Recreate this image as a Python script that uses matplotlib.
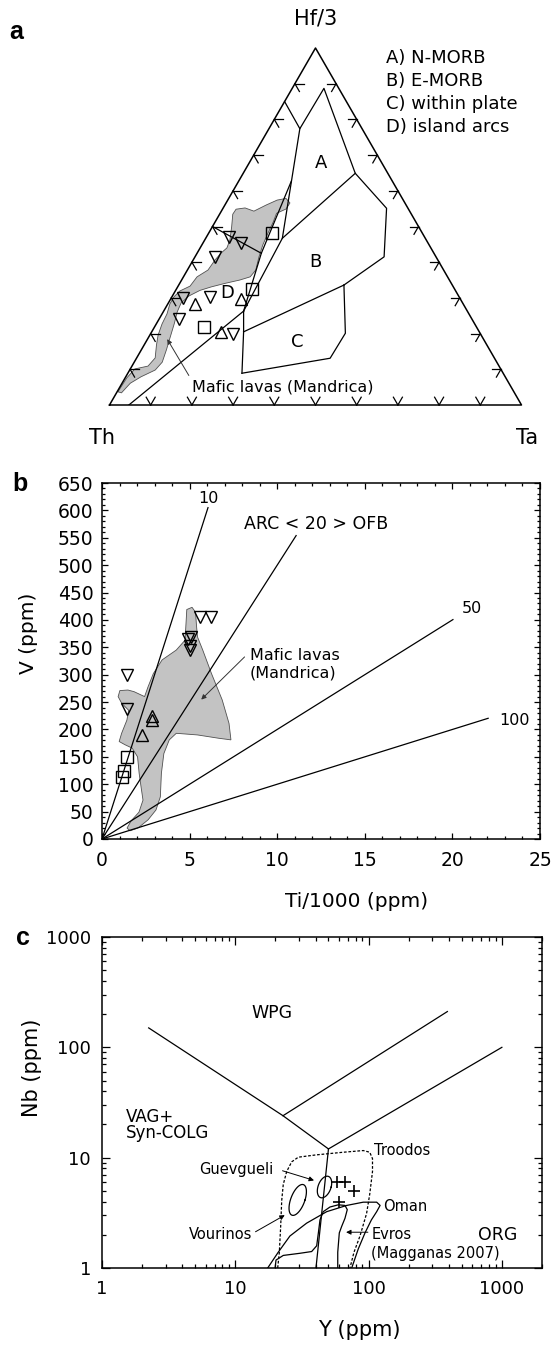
import numpy as np
import matplotlib
matplotlib.use("Agg")
import matplotlib.pyplot as plt
from matplotlib.ticker import MultipleLocator, LogLocator, FixedLocator, FixedFormatter, NullFormatter

plt.rcParams['font.family'] = ['DejaVu Sans']

# ---------------- panel a : Th - Hf/3 - Ta (percent: Th, Hf/3, Ta) ----------------
lava_a_th = [96.1, 92.0, 88.8, 85.2, 82.4, 80.2, 78.4, 75.9, 73.3, 71.2, 69.2, 66.9, 63.8, 60.8,
             57.2, 54.1, 51.7, 49.5, 47.6, 45.4, 43.4, 41.9, 39.5, 37.8, 34.0, 30.6, 28.2, 27.9,
             29.7, 32.6, 34.6, 37.5, 40.4, 42.9, 45.6, 47.9, 50.9, 54.8, 58.7, 62.0, 65.4, 68.4,
             70.6, 72.8, 75.6, 78.5, 81.2, 84.0, 88.4, 91.9, 95.3]
lava_a_hf = [3.7, 7.6, 10.1, 10.9, 13.2, 16.8, 19.6, 22.7, 25.5, 28.3, 30.3, 31.9, 33.3, 35.9,
             37.8, 40.6, 42.6, 44.0, 46.2, 49.9, 53.5, 54.9, 55.2, 54.3, 56.0, 57.4, 57.8, 56.6,
             54.9, 53.7, 51.3, 48.1, 44.8, 41.5, 37.8, 35.9, 35.0, 34.1, 33.1, 32.1, 30.5, 28.6,
             26.1, 22.9, 19.1, 15.4, 12.0, 9.8, 7.9, 6.1, 3.4]
lava_a_ta = [0.2, 0.4, 1.1, 3.9, 4.5, 3.0, 2.0, 1.4, 1.2, 0.5, 0.5, 1.1, 2.9, 3.3,
             5.0, 5.3, 5.8, 6.5, 6.1, 4.7, 3.2, 3.3, 5.3, 7.9, 10.0, 12.0, 13.9, 15.5,
             15.4, 13.7, 14.1, 14.4, 14.8, 15.5, 16.6, 16.2, 14.1, 11.1, 8.2, 5.9, 4.0, 3.1,
             3.4, 4.3, 5.2, 6.1, 6.8, 6.2, 3.7, 2.0, 1.2]

# samples (Th, Hf/3, Ta)
down_a = [(47.3, 47.1, 5.5), (45.4, 45.3, 9.4), (53.7, 41.5, 4.8), (67.3, 29.9, 2.8),
          (60.5, 30.3, 9.2), (71.2, 24.0, 4.8), (60.1, 19.9, 20.0)]
up_a = [(65.1, 28.2, 6.7), (53.2, 29.6, 17.2), (62.5, 20.5, 16.9)]
sq_a = [(36.4, 48.1, 15.5), (49.1, 32.4, 18.5), (66.0, 21.9, 12.1)]

# field boundaries (Wood 1980)
P85, J1, ATOP = (15.0, 85.0, 0.0), (15.1, 77.4, 7.5), (3.6, 88.7, 7.7)
J2, B1, B2, J3 = (7.9, 64.9, 27.2), (5.2, 55.1, 39.7), (12.6, 41.5, 45.9), (26.3, 33.6, 40.1)
K, G1, F2, L = (34.7, 46.7, 18.6), (24.6, 62.6, 12.8), (41.9, 42.5, 15.6), (54.3, 26.3, 19.4)
BASE, C1, CBOT = (95.3, 0.0, 4.7), (57.2, 20.5, 22.3), (63.4, 8.9, 27.7)
CR1, CR2, HT3 = (32.7, 20.1, 47.2), (39.9, 13.1, 47.0), (50.0, 50.0, 0.0)
fields_a = [[P85, J1, ATOP, J2, B1, B2, J3], [J2, K], [J1, K, L], [G1, F2, L],
            [HT3, F2], [L, BASE], [L, C1, CBOT], [C1, J3], [J3, CR1, CR2, CBOT]]
field_labels_a = {'A': (14.7, 67.7, 17.6), 'B': (30.0, 40.1, 29.9),
                  'C': (45.5, 17.7, 36.8), 'D': (55.9, 31.3, 12.9)}
legend_a = ['A) N-MORB', 'B) E-MORB', 'C) within plate', 'D) island arcs']
tick_steps = [10, 20, 30, 40, 50, 60, 70, 80, 90]

# ---------------- panel b : Ti/1000 vs V ----------------
ratios = [10, 20, 50, 100]
ratio_end_x = [6.05, 11.08, 20.03, 22.04]
ratio_labels = ['10', 'ARC < 20 > OFB', '50', '100']
ratio_label_pos = [(6.1, 622), (12.2, 576), (21.1, 421), (23.55, 217)]

lava_b_x = [4.84, 5.14, 5.34, 5.39, 5.45, 5.75, 6.25, 6.86, 7.25, 7.36, 6.65, 5.45, 4.24, 3.84,
            3.53, 3.39, 3.33, 3.08, 2.63, 2.05, 1.60, 1.43, 1.66, 2.11, 2.34, 2.23, 2.12, 2.03,
            1.72, 1.32, 0.98, 1.12, 1.42, 1.52, 1.12, 0.92, 1.02, 1.48, 1.83, 2.43, 2.63, 2.93,
            3.43, 4.24, 4.74, 4.79]
lava_b_v = [419, 423, 414, 391, 369, 345, 302, 254, 211, 181, 184, 190, 193, 181,
            156, 120, 77, 53, 35, 20, 15, 20, 33, 49, 71, 95, 120, 150,
            166, 172, 178, 193, 217, 235, 248, 260, 271, 272, 269, 260, 278, 302,
            327, 345, 363, 391]

down_b_x = [1.45, 1.41, 4.9, 5.1, 5.0, 5.0, 5.6, 6.2]
down_b_v = [300, 238, 365, 368, 352, 345, 405, 405]
up_b_x = [2.88, 2.87, 2.31]
up_b_v = [225, 217, 189]
sq_b_x = [1.45, 1.24, 1.12]
sq_b_v = [150, 124, 114]

# ---------------- panel c : Y vs Nb ----------------
bound_c = [[(2.24, 150), (22.8, 24), (50, 12)], [(22.8, 24), (390, 211)],
           [(50, 12), (1000, 100)], [(50, 12), (40.3, 1)]]
troodos_y = [20.8, 21.4, 21.9, 22.3, 22.9, 24.3, 26.5, 29.7, 40.5, 64.6, 91.2, 102, 107, 107,
             102, 96.6, 86.2, 77.7, 72.5]
troodos_nb = [1.0, 1.39, 2.38, 4.09, 5.71, 7.49, 9.17, 10.1, 10.6, 11.2, 11.6, 11.2, 9.8, 7.49,
              4.67, 3.12, 1.95, 1.39, 1.0]
oman_y = [17.5, 21.0, 25.7, 34.3, 48.5, 68.5, 91.2, 115, 122, 115, 105, 94, 83.7, 74.7]
oman_nb = [1.0, 1.39, 1.95, 2.55, 3.24, 3.69, 3.95, 3.95, 3.69, 3.24, 2.73, 2.08, 1.49, 1.0]
evros_y = [19.9, 20.2, 22.9, 30.6, 37.4, 40.8, 42.0, 43.2, 45.7, 51.3, 59.3, 66.5, 69.2, 66.5,
           62.8, 60.3, 58.7, 58.7]
evros_nb = [1.0, 1.18, 1.30, 1.36, 1.41, 1.59, 2.08, 2.73, 3.24, 3.57, 3.74, 3.69, 3.38, 2.82,
            2.38, 2.08, 1.39, 1.0]
# ellipses: centre Y, centre Nb, half-width (log), half-height (log), lean (log)
guevgueli = (46.7, 5.42, 0.05, 0.098, 0.02)
vourinos = (29.4, 4.14, 0.055, 0.14, 0.035)
plus_y = [58, 67, 78, 60]
plus_nb = [6.0, 6.0, 5.0, 4.0]


def tern(pts):
    p = np.asarray(pts, dtype=float)
    s = p.sum(axis=1)
    return (p[:, 2] + p[:, 1] / 2) / s, p[:, 1] / s


fig = plt.figure(figsize=(5.52, 13.6), dpi=100)
W, H = 552.0, 1360.0

# ======================= panel a =======================
tri_l, tri_b, tri_w, tri_h = 109.5, 405.0, 412.0, 357.0
axa = fig.add_axes([tri_l / W, 1 - tri_b / H, tri_w / W, tri_h / H])
axa.set_xlim(0, 1)
axa.set_ylim(0, 1)
axa.axis('off')

gx, gy = tern(list(zip(lava_a_th, lava_a_hf, lava_a_ta)))
axa.fill(gx, gy, facecolor='#c3c3c3', edgecolor='#505050', lw=0.6, zorder=1)
axa.plot([0, 1, 0.5, 0], [0, 0, 1, 0], color='k', lw=1.1, zorder=3, clip_on=False)
for seg in fields_a:
    sx, sy = tern(seg)
    axa.plot(sx, sy, color='k', lw=0.9, zorder=3)

# arrow ticks along the edges
arm = 9.0
def chevron(x0, y0, angs):
    for a in angs:
        r = np.radians(a)
        axa.plot([x0, x0 + arm * np.cos(r) / tri_w], [y0, y0 + arm * np.sin(r) / tri_h],
                 color='k', lw=0.9, zorder=3, clip_on=False)
for t in tick_steps:
    lx, ly = tern([(100 - t, t, 0)])
    chevron(lx[0], ly[0], [0, -60])
    rx, ry = tern([(0, t, 100 - t)])
    chevron(rx[0], ry[0], [180, 240])
    bx, by = tern([(100 - t, 0, t)])
    chevron(bx[0], by[0], [60, 120])

mk = dict(color='k', mfc='none', mew=1.0, ls='none', zorder=4, clip_on=False)
px, py = tern(down_a)
axa.plot(px, py, marker='v', ms=8, **mk)
px, py = tern(up_a)
axa.plot(px, py, marker='^', ms=8, **mk)
px, py = tern(sq_a)
axa.plot(px, py, marker='s', ms=8, **mk)

for lab, pt in field_labels_a.items():
    lx, ly = tern([pt])
    axa.text(lx[0], ly[0], lab, fontsize=13, ha='center', va='center', zorder=5)

tx, ty = tern([(55.3, 5.1, 39.6)])
axa.text(tx[0], ty[0], 'Mafic lavas (Mandrica)', fontsize=11.5, ha='center', va='center')
ax0, ay0 = tern([(76.6, 7.6, 15.8)])
ax1, ay1 = tern([(76.7, 19.1, 4.1)])
axa.annotate('', xy=(ax1[0], ay1[0]), xytext=(ax0[0], ay0[0]),
             arrowprops=dict(arrowstyle='-|>', color='#333333', lw=0.7, mutation_scale=7))

axa.text(0.5, 1.084, 'Hf/3', fontsize=15, ha='center', va='center')
axa.text(-0.018, -0.093, 'Th', fontsize=15, ha='center', va='center')
axa.text(1.013, -0.093, 'Ta', fontsize=15, ha='center', va='center')
for i, s in enumerate(legend_a):
    axa.text(0.67, 0.972 - i * 0.0645, s, fontsize=13, ha='left', va='center')

lab_kw = dict(fontsize=18, fontweight='bold', family=['Liberation Sans', 'DejaVu Sans'],
              ha='left', va='center')
fig.text(9 / W, 1 - 32 / H, 'a', **lab_kw)

# ======================= panel b =======================
bl, br, bt, bb = 102.0, 540.0, 483.0, 839.0
axb = fig.add_axes([bl / W, 1 - bb / H, (br - bl) / W, (bb - bt) / H])
axb.set_xlim(0, 25)
axb.set_ylim(0, 650)
axb.fill(lava_b_x, lava_b_v, facecolor='#c3c3c3', edgecolor='#505050', lw=0.6, zorder=1)
for r, xe in zip(ratios, ratio_end_x):
    axb.plot([0, xe], [0, xe * 1000 / r], color='k', lw=0.9, zorder=2)
for s, (x, y) in zip(ratio_labels, ratio_label_pos):
    axb.text(x, y, s, fontsize=12.5 if s.startswith('ARC') else 11.5, ha='center', va='center')
axb.plot(down_b_x, down_b_v, marker='v', ms=8, **mk)
axb.plot(up_b_x, up_b_v, marker='^', ms=8, **mk)
axb.plot(sq_b_x, sq_b_v, marker='s', ms=8, **mk)
axb.text(8.45, 319, 'Mafic lavas\n(Mandrica)', fontsize=11.5, ha='left', va='center',
         linespacing=1.15)
axb.annotate('', xy=(5.55, 251), xytext=(8.25, 336),
             arrowprops=dict(arrowstyle='-|>', color='#333333', lw=0.7, mutation_scale=7))

axb.xaxis.set_major_locator(MultipleLocator(5))
axb.xaxis.set_minor_locator(MultipleLocator(1))
axb.yaxis.set_major_locator(MultipleLocator(50))
axb.yaxis.set_minor_locator(MultipleLocator(10))
axb.tick_params(which='both', direction='in', top=True, right=True, labelsize=13.5, width=0.9)
axb.tick_params(which='major', length=4.5)
axb.tick_params(which='minor', length=2.5)
axb.tick_params(axis='x', pad=9)
axb.tick_params(axis='y', pad=6)
for sp in axb.spines.values():
    sp.set_linewidth(1.1)
axb.set_xlabel('Ti/1000 (ppm)', fontsize=14.5)
axb.xaxis.set_label_coords((357 - bl) / (br - bl), (bb - 892) / (bb - bt))
axb.set_ylabel('V (ppm)', fontsize=14.5)
axb.yaxis.set_label_coords((38 - bl) / (br - bl), (bb - 633) / (bb - bt))
fig.text(12 / W, 1 - 484 / H, 'b', **lab_kw)

# ======================= panel c =======================
cl, cr, ct, cb = 102.0, 542.0, 937.0, 1268.0
axc = fig.add_axes([cl / W, 1 - cb / H, (cr - cl) / W, (cb - ct) / H])
axc.set_xscale('log')
axc.set_yscale('log')
axc.set_xlim(1, 2000)
axc.set_ylim(1, 1000)
for seg in bound_c:
    sx, sy = zip(*seg)
    axc.plot(sx, sy, color='k', lw=0.9)
axc.plot(troodos_y, troodos_nb, color='k', lw=0.9, ls=(0, (2.2, 1.4)))
axc.plot(oman_y, oman_nb, color='k', lw=0.9)
axc.plot(evros_y, evros_nb, color='k', lw=0.9)
t = np.linspace(0, 2 * np.pi, 120)
for cx, cy, hw, hh, lean in (guevgueli, vourinos):
    ex = 10 ** (np.log10(cx) + hw * np.cos(t) + lean * np.sin(t))
    ey = 10 ** (np.log10(cy) + hh * np.sin(t))
    axc.plot(ex, ey, color='k', lw=0.9)
axc.plot(plus_y, plus_nb, marker='+', ms=8, mew=1.2, color='k', ls='none')

axc.text(19.0, 204, 'WPG', fontsize=12.5, ha='center', va='center')
axc.text(1.51, 23.2, 'VAG+', fontsize=12, ha='left', va='center')
axc.text(1.51, 16.7, 'Syn-COLG', fontsize=12, ha='left', va='center')
axc.text(930, 2.0, 'ORG', fontsize=12.5, ha='center', va='center')
axc.text(109, 11.6, 'Troodos', fontsize=10.5, ha='left', va='center')
axc.text(19.2, 7.8, 'Guevgueli', fontsize=10.5, ha='right', va='center')
axc.text(128, 3.64, 'Oman', fontsize=10.5, ha='left', va='center')
axc.text(13.4, 2.0, 'Vourinos', fontsize=10.5, ha='right', va='center')
axc.text(105, 2.01, 'Evros', fontsize=10.5, ha='left', va='center')
axc.text(105, 1.35, '(Magganas 2007)', fontsize=10.5, ha='left', va='center')
ap = dict(arrowstyle='-|>', color='k', lw=0.7, mutation_scale=7)
axc.annotate('', xy=(40.8, 6.12), xytext=(21.6, 7.74), arrowprops=ap)
axc.annotate('', xy=(24.5, 3.1), xytext=(13.6, 2.07), arrowprops=ap)
axc.annotate('', xy=(64.6, 2.11), xytext=(103.7, 2.11), arrowprops=ap)

decades = [1, 10, 100, 1000]
axc.xaxis.set_major_locator(FixedLocator(decades))
axc.xaxis.set_major_formatter(FixedFormatter([str(d) for d in decades]))
axc.yaxis.set_major_locator(FixedLocator(decades))
axc.yaxis.set_major_formatter(FixedFormatter([str(d) for d in decades]))
for a in (axc.xaxis, axc.yaxis):
    a.set_minor_locator(LogLocator(base=10, subs=np.arange(2, 10), numticks=20))
    a.set_minor_formatter(NullFormatter())
axc.tick_params(which='both', direction='in', top=True, right=True, labelsize=13, width=0.9)
axc.tick_params(which='major', length=6)
axc.tick_params(which='minor', length=3)
axc.tick_params(axis='x', pad=9)
axc.tick_params(axis='y', pad=8)
for sp in axc.spines.values():
    sp.set_linewidth(1.1)
axc.set_xlabel('Y (ppm)', fontsize=15)
axc.xaxis.set_label_coords((359 - cl) / (cr - cl), (cb - 1320) / (cb - ct))
axc.set_ylabel('Nb (ppm)', fontsize=15)
axc.yaxis.set_label_coords((42 - cl) / (cr - cl), (cb - 1068) / (cb - ct))
fig.text(16 / W, 1 - 938 / H, 'c', **lab_kw)

fig.savefig('out.png', dpi=100)
